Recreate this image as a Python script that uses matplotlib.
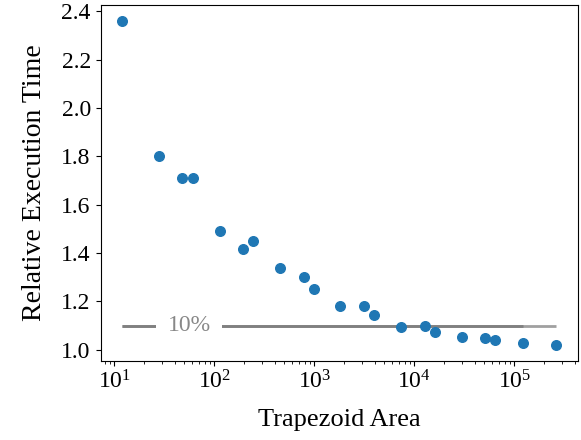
import numpy as np
import matplotlib
matplotlib.use("Agg")
import matplotlib.pyplot as plt

plt.rcParams['font.family'] = ['Liberation Serif', 'DejaVu Serif']
plt.rcParams['mathtext.fontset'] = 'custom'
plt.rcParams['mathtext.rm'] = 'Liberation Serif'
plt.rcParams['mathtext.it'] = 'Liberation Serif:italic'
plt.rcParams['mathtext.bf'] = 'Liberation Serif:bold'

# === data ===
area = [12, 28, 48, 61, 114, 195, 244, 457, 789, 984, 1790, 3160, 3950,
        7410, 12900, 16100, 30200, 51300, 64100, 121000, 263000]
rel_time = [2.36, 1.80, 1.71, 1.71, 1.49, 1.415, 1.45, 1.337, 1.302, 1.251, 1.182,
            1.181, 1.145, 1.095, 1.099, 1.073, 1.052, 1.048, 1.041, 1.029, 1.021]
threshold = 1.1
threshold_label = "10%"
label_pos = 56

fig = plt.figure(figsize=(5.81, 4.40), dpi=100)
ax = fig.add_axes([0.173, 0.18, 0.822, 0.809])

ax.hlines(threshold, min(area), max(area), color='#a0a0a0', lw=2, zorder=1)
ax.hlines(threshold, min(area), area[-2], color='#808080', lw=2, zorder=1)
ax.text(label_pos, threshold, threshold_label, color='#888888', fontsize=17,
        ha='center', va='center', zorder=2,
        bbox=dict(facecolor='white', edgecolor='none', pad=8))
ax.scatter(area, rel_time, s=48, color='#1f77b4', zorder=3)

ax.set_xscale('log')
ax.set_yticks([1.0, 1.2, 1.4, 1.6, 1.8, 2.0, 2.2, 2.4])
ax.tick_params(labelsize=17)
ax.set_xlabel("Trapezoid Area", fontsize=19, labelpad=11)
ax.set_ylabel("Relative Execution Time", fontsize=20, labelpad=10)

plt.savefig("out.png", dpi=100)
